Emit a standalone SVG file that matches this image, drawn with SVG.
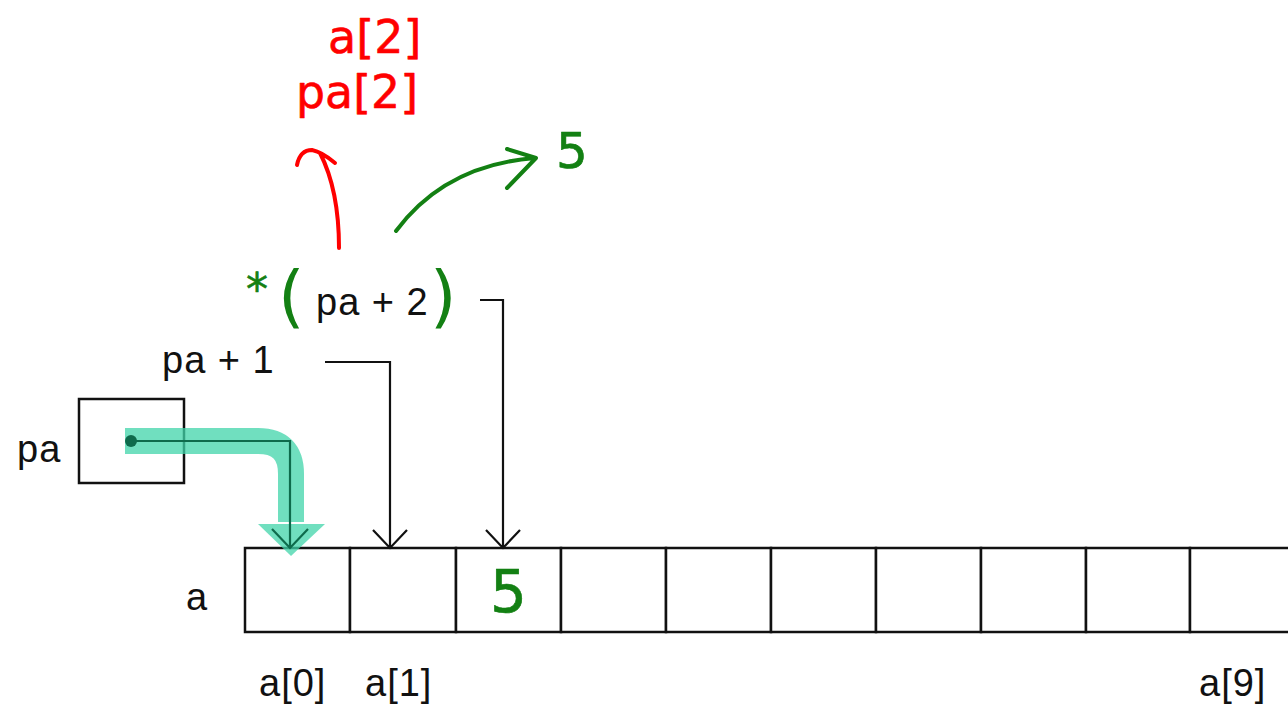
<svg xmlns="http://www.w3.org/2000/svg" width="1288" height="704" viewBox="0 0 1288 704">
<style>
.lbl{font-family:"Liberation Sans",Arial,sans-serif;font-size:38px;letter-spacing:1px;fill:#111}
.hand{font-family:"DejaVu Sans",sans-serif;stroke-width:0.6;stroke-linejoin:round}
.red{fill:#ff0000;stroke:#ff0000}
.grn{fill:#138013;stroke:#138013}
.cell{fill:#fff;stroke:#111;stroke-width:2.5}
.wire{fill:none;stroke:#111;stroke-width:2.2}
.rs{fill:none;stroke:#ff0000;stroke-width:4;stroke-linecap:round;stroke-linejoin:round}
.gs{fill:none;stroke:#138013;stroke-width:4;stroke-linecap:round;stroke-linejoin:round}
</style>
<rect width="1288" height="704" fill="#fff"/>
<g id="array-a">
<rect class="cell" x="245" y="548" width="105" height="84"/>
<rect class="cell" x="350" y="548" width="106" height="84"/>
<rect class="cell" x="456" y="548" width="105" height="84"/>
<rect class="cell" x="561" y="548" width="105" height="84"/>
<rect class="cell" x="666" y="548" width="105" height="84"/>
<rect class="cell" x="771" y="548" width="105" height="84"/>
<rect class="cell" x="876" y="548" width="105" height="84"/>
<rect class="cell" x="981" y="548" width="105" height="84"/>
<rect class="cell" x="1086" y="548" width="104" height="84"/>
<rect class="cell" x="1190" y="548" width="110" height="84"/>
<text class="lbl" x="186" y="610">a</text>
<text class="lbl" x="259" y="696">a[0]</text>
<text class="lbl" x="365" y="696">a[1]</text>
<text class="lbl" x="1199" y="696">a[9]</text>
<text class="hand grn" x="490" y="612" font-size="58">5</text>
</g>
<g id="pa">
<rect class="cell" x="79" y="399" width="105" height="84"/>
<text class="lbl" x="17" y="462">pa</text>
</g>
<g id="pa-plus-1">
<text class="lbl" x="162" y="373">pa + 1</text>
</g>
<g id="pa-plus-2">
<text class="hand grn" x="246" y="305" font-size="44">*</text>
<text class="hand grn" x="278" y="320" font-size="68" style="stroke-width:0">(</text>
<text class="lbl" x="316" y="315">pa + 2</text>
<text class="hand grn" x="430" y="320" font-size="68" style="stroke-width:0">)</text>
</g>
<g id="annotations">
<text class="hand red" x="328" y="53" font-size="46">a[2]</text>
<text class="hand red" x="296" y="108" font-size="46" textLength="122" lengthAdjust="spacingAndGlyphs">pa[2]</text>
<text class="hand grn" x="556" y="168" font-size="50">5</text>
</g>
<g id="connectors">
<path d="M125 441 H258 Q291 441 291 474 V522" fill="none" stroke="#40d4aa" stroke-opacity="0.75" stroke-width="26"/>
<polygon points="258,524 325,524 291,556" fill="#40d4aa" fill-opacity="0.75"/>
<circle cx="131" cy="441" r="6" fill="#0e6b4c"/>
<path d="M131 441 H290 V548 M272 529 L290 548 L308 529" fill="none" stroke="#0e6b4c" stroke-width="2.2"/>
<path class="wire" d="M325 362 H390 V548 M373 530 L390 548 L407 530"/>
<path class="wire" d="M480 300 H503 V548 M486 530 L503 548 L520 530"/>
<path class="rs" d="M339 248 Q339 190 320 153 M297 165 Q300 150 312 150 Q322 152 335 163"/>
<path class="gs" d="M396 231 Q445 165 535 158 M507 149 L536 158 L507 188"/>
</g>
</svg>
